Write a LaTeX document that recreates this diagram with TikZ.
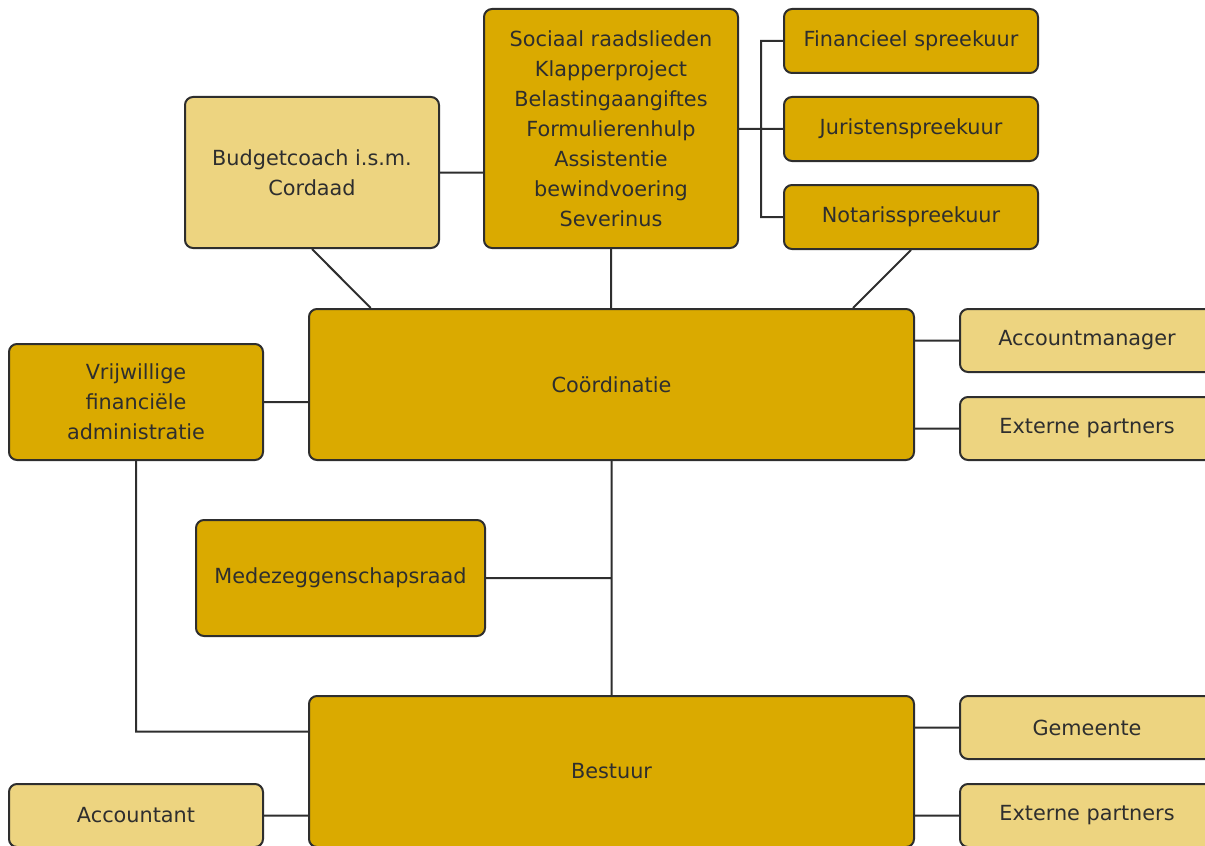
\documentclass[tikz,border=0pt]{standalone}
\usepackage{fontspec}
\setmainfont{DejaVu Sans}
\definecolor{darkgold}{HTML}{DAAA00}
\definecolor{lightgold}{HTML}{EDD480}
\definecolor{edge}{HTML}{2E2E2E}
\usetikzlibrary{positioning}
\begin{document}
\begin{tikzpicture}[x=0.75pt,y=-0.75pt,
    every node/.style={draw=edge,line width=1.5pt,rounded corners=6pt,inner sep=0pt,
      align=center,text=edge,font=\fontsize{15.6pt}{22.5pt}\selectfont},
    dark/.style={fill=darkgold},
    light/.style={fill=lightgold},
    link/.style={draw=edge,line width=1.5pt}]
      \useasboundingbox (0,0) rectangle (1205,845);
      \clip (0,0) rectangle (1205,845);
      \draw
        (312,172.5) node[light,minimum width=190.5pt,minimum height=113.25pt] (budget) {Budgetcoach i.s.m.\\Cordaad}
        (611,128.5) node[dark,minimum width=190.5pt,minimum height=179.25pt] (sociaal) {Sociaal raadslieden\\Klapperproject\\Belastingaangiftes\\Formulierenhulp\\Assistentie\\bewindvoering\\Severinus}
        (911,41) node[dark,minimum width=190.5pt,minimum height=48pt] (finan) {Financieel spreekuur}
        (911,129) node[dark,minimum width=190.5pt,minimum height=48pt] (juris) {Juristenspreekuur}
        (911,217) node[dark,minimum width=190.5pt,minimum height=48pt] (notaris) {Notarisspreekuur};
      \draw
        (611.5,384.5) node[dark,minimum width=453.75pt,minimum height=113.25pt] (coord) {Coördinatie}
        (136,402) node[dark,minimum width=190.5pt,minimum height=87pt] (vrijw) {Vrijwillige\\financiële\\administratie}
        (1087,340.5) node[light,minimum width=190.5pt,minimum height=47.25pt] (accman) {Accountmanager}
        (1087,428.5) node[light,minimum width=190.5pt,minimum height=47.25pt] (extern1) {Externe partners};
      \draw
        (340.5,578) node[dark,minimum width=216.75pt,minimum height=87pt] (mzr) {Medezeggenschapsraad}
        (611.5,771.5) node[dark,minimum width=453.75pt,minimum height=113.25pt] (bestuur) {Bestuur}
        (1087,727.5) node[light,minimum width=190.5pt,minimum height=47.25pt] (gemeente) {Gemeente}
        (1087,815.5) node[light,minimum width=190.5pt,minimum height=47.25pt] (extern2) {Externe partners}
        (136,815.5) node[light,minimum width=190.5pt,minimum height=47.25pt] (accountant) {Accountant};
      % verbindingen
      \draw[link]
        (budget.east) -- (budget.east -| sociaal.west)
        (sociaal.east |- juris.west) -- (juris.west)
        (finan.west) -| ([xshift=-16.5pt]juris.west) |- (notaris.west)
        (budget.south) -- ([xshift=47pt]coord.north west)
        (sociaal.south) -- (sociaal.south |- coord.north)
        (notaris.south) -- ([xshift=-46.5pt]coord.north east)
        (vrijw.east) -- (vrijw.east -| coord.west)
        (accman.west) -- (accman.west -| coord.east)
        (extern1.west) -- (extern1.west -| coord.east)
        (coord.south) -- (bestuur.north)
        (mzr.east) -- (mzr.east -| coord.south)
        (vrijw.south) |- ([yshift=30pt]bestuur.west)
        (gemeente.west) -- (gemeente.west -| bestuur.east)
        (extern2.west) -- (extern2.west -| bestuur.east)
        (accountant.east) -- (accountant.east -| bestuur.west);
    \end{tikzpicture}
\end{document}
